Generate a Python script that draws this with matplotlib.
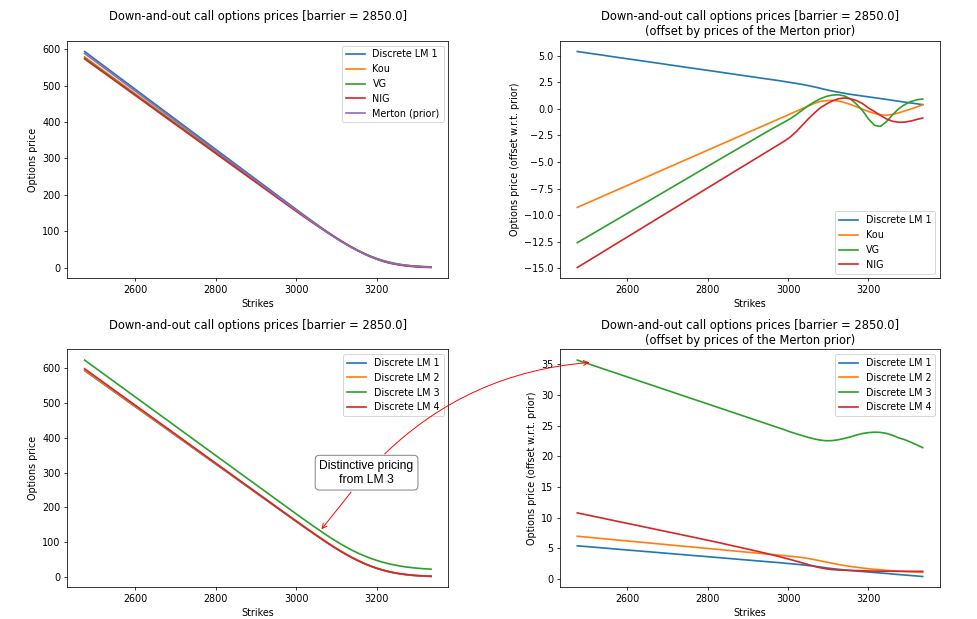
import matplotlib
matplotlib.use("Agg")
import matplotlib.pyplot as plt
import numpy as np

# Strike grid
strikes = [2475, 2525, 2575, 2625, 2675, 2725, 2775, 2825, 2875, 2925,
           2945, 2960, 2975, 2990, 3005, 3020, 3035, 3050, 3065, 3080,
           3095, 3110, 3125, 3140, 3155, 3170, 3185, 3200, 3215, 3230,
           3245, 3260, 3275, 3290, 3305, 3320, 3335]

# Down-and-out call prices under the Merton prior
merton_prior = [587.9, 546.9, 505.9, 464.9, 423.9, 382.9, 341.9, 300.9, 259.9, 219.0,
                202.6, 190.3, 178.0, 165.8, 153.6, 141.5, 129.5, 117.7, 106.0, 94.6,
                83.6, 73.0, 63.0, 53.6, 45.0, 37.1, 30.1, 24.0, 18.8, 14.4,
                10.8, 7.9, 5.7, 4.0, 2.7, 1.8, 1.2]

# Price offsets w.r.t. the Merton prior
off_lm1 = [5.40, 5.13, 4.85, 4.58, 4.31, 4.03, 3.76, 3.49, 3.21, 2.94,
           2.83, 2.75, 2.67, 2.58, 2.49, 2.40, 2.30, 2.19, 2.07, 1.94,
           1.80, 1.68, 1.57, 1.47, 1.37, 1.29, 1.21, 1.13, 1.05, 0.97,
           0.89, 0.80, 0.72, 0.64, 0.56, 0.48, 0.40]
off_kou = [-9.28, -8.45, -7.62, -6.79, -5.96, -5.13, -4.30, -3.47, -2.64, -1.81,
           -1.48, -1.23, -0.98, -0.73, -0.48, -0.23, 0.02, 0.27, 0.52, 0.70,
           0.78, 0.80, 0.74, 0.60, 0.42, 0.20, -0.03, -0.25, -0.43, -0.56,
           -0.60, -0.52, -0.38, -0.20, -0.02, 0.18, 0.38]
off_vg = [-12.60, -11.50, -10.39, -9.28, -8.18, -7.07, -5.96, -4.85, -3.75, -2.64,
          -2.20, -1.88, -1.57, -1.25, -0.93, -0.55, -0.12, 0.30, 0.65, 0.95,
          1.17, 1.30, 1.33, 1.22, 0.94, 0.45, -0.15, -0.95, -1.55, -1.65,
          -1.20, -0.55, 0.00, 0.40, 0.68, 0.85, 0.93]
off_nig = [-14.94, -13.79, -12.63, -11.48, -10.32, -9.17, -8.01, -6.86, -5.70, -4.55,
           -4.09, -3.74, -3.40, -3.05, -2.66, -2.15, -1.55, -0.95, -0.40, 0.10,
           0.45, 0.75, 0.95, 1.03, 0.95, 0.78, 0.50, 0.08, -0.25, -0.62,
           -0.95, -1.17, -1.26, -1.25, -1.15, -1.00, -0.86]
off_lm2 = [6.96, 6.65, 6.34, 6.04, 5.73, 5.42, 5.12, 4.81, 4.50, 4.20,
           4.07, 3.98, 3.89, 3.80, 3.70, 3.60, 3.48, 3.33, 3.15, 2.95,
           2.75, 2.55, 2.36, 2.19, 2.04, 1.90, 1.78, 1.67, 1.57, 1.48,
           1.40, 1.33, 1.27, 1.21, 1.16, 1.12, 1.08]
off_lm3 = [35.66, 34.56, 33.46, 32.36, 31.26, 30.16, 29.06, 27.96, 26.86, 25.76,
           25.32, 24.99, 24.66, 24.33, 23.97, 23.66, 23.36, 23.07, 22.82, 22.62,
           22.52, 22.55, 22.68, 22.90, 23.15, 23.45, 23.70, 23.85, 23.92, 23.88,
           23.72, 23.40, 23.00, 22.70, 22.30, 21.85, 21.40]
off_lm4 = [10.76, 10.08, 9.39, 8.71, 8.02, 7.34, 6.65, 5.95, 5.22, 4.48,
           4.17, 3.93, 3.68, 3.43, 3.17, 2.90, 2.62, 2.34, 2.06, 1.82,
           1.64, 1.53, 1.46, 1.42, 1.39, 1.36, 1.33, 1.30, 1.28, 1.27,
           1.26, 1.25, 1.25, 1.24, 1.24, 1.24, 1.24]

barrier = 2850.0

K = np.array(strikes)
prior = np.array(merton_prior)

plt.rcParams["lines.linewidth"] = 1.75

DPI = 69
fig = plt.figure(figsize=(977 / DPI, 619 / DPI), dpi=DPI)

ax1 = fig.add_axes([0.0689, 0.5504, 0.3900, 0.3838])
ax2 = fig.add_axes([0.5732, 0.5504, 0.3889, 0.3838])
ax3 = fig.add_axes([0.0689, 0.0512, 0.3900, 0.3845])
ax4 = fig.add_axes([0.5732, 0.0512, 0.3889, 0.3845])

title = f"Down-and-out call options prices [barrier = {barrier}]"
title_plain = title + "\n"
title_off = title + "\n(offset by prices of the Merton prior)"

# Top row: reference models
models = [("Discrete LM 1", off_lm1), ("Kou", off_kou), ("VG", off_vg), ("NIG", off_nig)]
for name, off in models:
    ax1.plot(K, prior + np.array(off), label=name)
ax1.plot(K, prior, label="Merton (prior)")
ax1.set_title(title_plain)
ax1.set_xlabel("Strikes")
ax1.set_ylabel("Options price")
ax1.legend(loc="upper right")

for name, off in models:
    ax2.plot(K, off, label=name)
ax2.set_title(title_off)
ax2.set_xlabel("Strikes")
ax2.set_ylabel("Options price (offset w.r.t. prior)")
ax2.legend(loc="lower right")

# Bottom row: discrete Lévy models
lms = [("Discrete LM 1", off_lm1), ("Discrete LM 2", off_lm2),
       ("Discrete LM 3", off_lm3), ("Discrete LM 4", off_lm4)]
for name, off in lms:
    ax3.plot(K, prior + np.array(off), label=name)
ax3.set_title(title_plain)
ax3.set_xlabel("Strikes")
ax3.set_ylabel("Options price")
ax3.legend(loc="upper right")

for name, off in lms:
    ax4.plot(K, off, label=name)
ax4.set_title(title_off)
ax4.set_xlabel("Strikes")
ax4.set_ylabel("Options price (offset w.r.t. prior)")
ax4.legend(loc="upper right")

note = "Distinctive pricing\nfrom LM 3"
note_pos = (3175, 300)
note_font = dict(family=["Liberation Sans", "DejaVu Sans"], size=12.7)
box_style = "round,pad=0.35"

ax3.annotate(note, xy=(3060, 133), xytext=note_pos,
             ha="center", va="center", linespacing=1.25,
             bbox=dict(boxstyle=box_style, fc="white", ec="gray"), **note_font,
             arrowprops=dict(arrowstyle="->", color="red", lw=1))

# Second arrow into the offset panel, starting from the same box
ax4.annotate(note, xy=(2510, 35.3), xytext=note_pos, textcoords=ax3.transData,
             ha="center", va="center", color="none", linespacing=1.25,
             bbox=dict(boxstyle=box_style, fc="none", ec="none"),
             annotation_clip=False, **note_font,
             arrowprops=dict(arrowstyle="->", color="red", lw=1,
                             connectionstyle="arc3,rad=-0.2"))

fig.savefig("out.png", dpi=DPI)
